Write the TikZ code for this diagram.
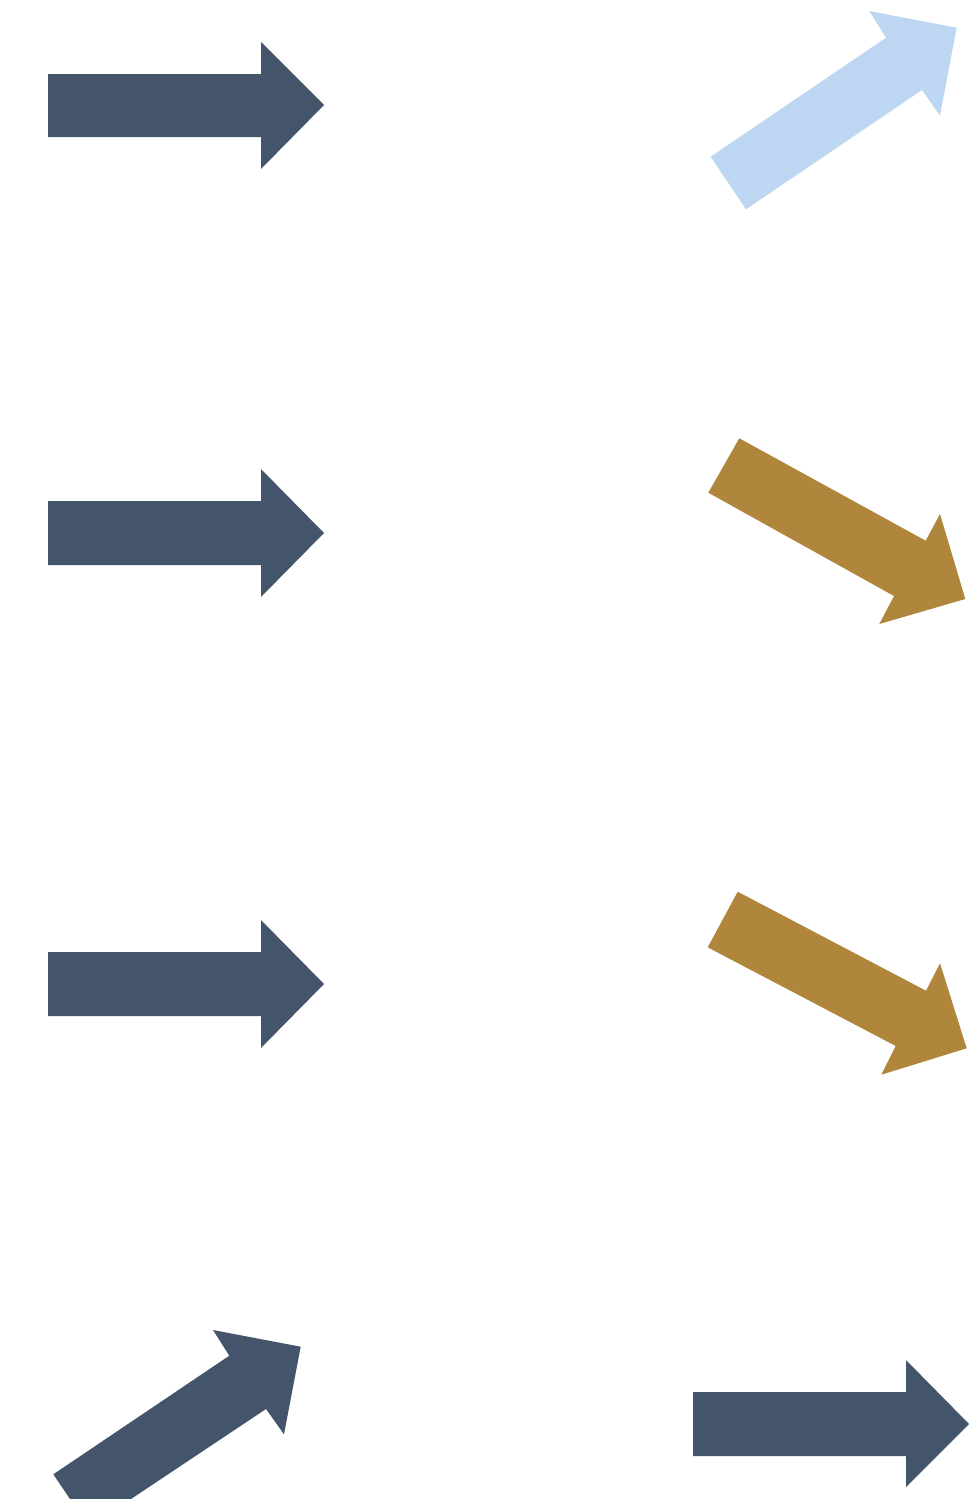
\documentclass[tikz,border=0pt]{standalone}
\definecolor{darkslate}{HTML}{44546A}
\definecolor{lightblue}{HTML}{BDD7F2}
\definecolor{goldbrown}{HTML}{AF863B}
\begin{document}
\begin{tikzpicture}[x=1pt,y=-1pt,
  darkarrow/.style={fill=darkslate,draw=none},
  bluearrow/.style={fill=lightblue,draw=none},
  goldarrow/.style={fill=goldbrown,draw=none}]
\useasboundingbox (0,0) rectangle (975,1499);
\clip (0,0) rectangle (975,1499);
% left column
\fill[darkarrow] (48,74) -- (261,74) -- (261,42) -- (324,105) -- (261,169) -- (261,137) -- (48,137) -- cycle;
\fill[darkarrow] (48,501) -- (261,501) -- (261,469) -- (324,533) -- (261,597) -- (261,565) -- (48,565) -- cycle;
\fill[darkarrow] (48,952) -- (261,952) -- (261,920) -- (324,984) -- (261,1048) -- (261,1016) -- (48,1016) -- cycle;
\fill[darkarrow] (53.3,1474.3) -- (229.3,1355.7) -- (213,1330) -- (300.7,1346.7) -- (284,1434.3) -- (266,1409) -- (89,1527) -- cycle;
% right column
\fill[bluearrow] (710.7,156.7) -- (886,37.7) -- (869.3,11) -- (956.7,27.7) -- (940,115.7) -- (922,90) -- (746,209.3) -- cycle;
\fill[goldarrow] (739.3,438.3) -- (925.7,540.7) -- (940,514) -- (965.3,599) -- (879.3,624) -- (894,596) -- (708.3,492.7) -- cycle;
\fill[goldarrow] (737.7,891.7) -- (926,990.7) -- (940,963.3) -- (966.7,1048.3) -- (881.3,1074.7) -- (895.7,1046) -- (707.7,947.3) -- cycle;
\fill[darkarrow] (693,1392) -- (906,1392) -- (906,1360) -- (969,1424) -- (906,1487) -- (906,1456) -- (693,1456) -- cycle;
\end{tikzpicture}
\end{document}
